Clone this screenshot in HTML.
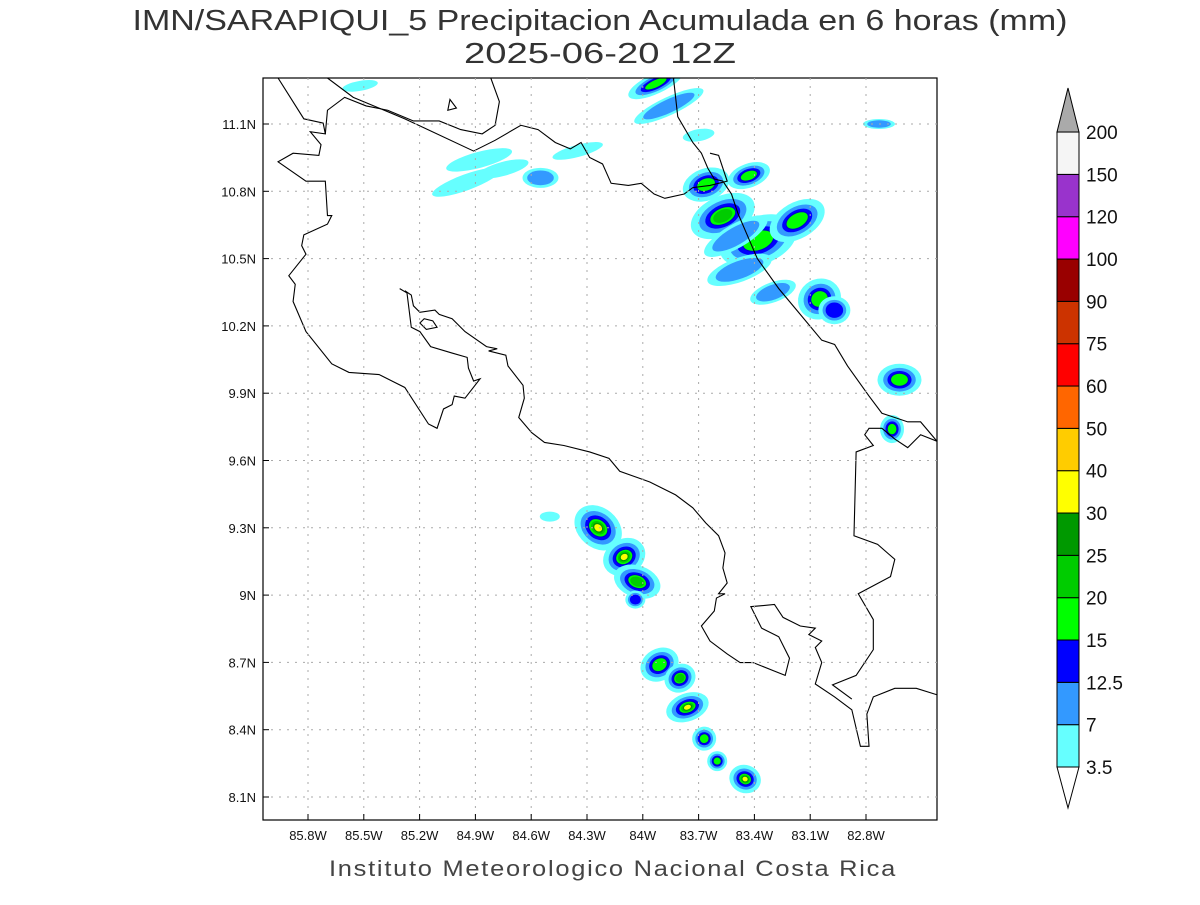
<!DOCTYPE html>
<html><head><meta charset="utf-8"><style>
body{margin:0;background:#fff;}
svg text{font-family:"Liberation Sans",sans-serif;}
</style></head><body>
<svg id="chart" width="1200" height="900" xmlns="http://www.w3.org/2000/svg">
<rect width="1200" height="900" fill="#fff"/>
<text x="600" y="30" text-anchor="middle" font-size="29" fill="#333" textLength="935" lengthAdjust="spacingAndGlyphs">IMN/SARAPIQUI_5 Precipitacion Acumulada en 6 horas (mm)</text>
<text x="600" y="63" text-anchor="middle" font-size="29" fill="#333" textLength="272" lengthAdjust="spacingAndGlyphs">2025-06-20 12Z</text>
<defs><clipPath id="pc"><rect x="263" y="78" width="674" height="742"/></clipPath></defs>
<g id="plot" clip-path="url(#pc)"></g>
<g clip-path="url(#pc)">
<g id="coast" transform="translate(263,78) scale(0.4298)" fill="none" stroke="#000" stroke-width="1.1">
<path vector-effect="non-scaling-stroke" d="M35,0 L95,95 140,105 145,130 110,125 135,155 130,180 70,175 35,195 100,240 145,240 150,320 160,320 150,340 95,365 90,390 100,410 60,460 75,480 70,520 100,590 160,665 200,685 270,690 330,720 385,805 405,815 420,770 440,760 445,740 470,745 505,700 490,705 478,675 475,650 440,640 390,625 365,590 345,580 335,500 318,490"/>
<path vector-effect="non-scaling-stroke" d="M330,495 L345,505 350,530 365,545 400,540 410,550 440,560 470,590 520,625 545,630 525,635 565,645 570,670 605,715 608,745 595,790 625,825 655,848 700,855 760,870 805,885 830,915 900,940 960,970 1000,1000 1030,1035 1060,1065 1075,1105 1070,1140 1080,1175 1060,1200 1075,1200 1055,1210 1050,1240 1020,1275 1040,1310 1080,1340 1110,1360 1140,1360 1190,1380 1215,1390 1225,1350 1200,1300 1160,1280 1135,1230 1190,1225 1210,1255 1250,1275 1285,1280 1270,1295 1300,1310 1285,1325 1300,1360 1285,1410 1330,1440 1370,1470 1390,1555 1410,1555 1405,1480 1420,1440 1470,1420 1520,1420 1568,1435"/>
<path vector-effect="non-scaling-stroke" d="M1568,845 L1530,830 1500,860 1470,840 1440,815 1410,815 1400,830 1420,855 1380,870 1375,1065 1430,1085 1470,1120 1460,1160 1385,1200 1420,1260 1420,1330 1380,1390 1325,1412 1370,1445"/>
<path vector-effect="non-scaling-stroke" d="M955,0 L965,90 1000,150 1020,175 1035,210 1050,235 1070,240 1090,270 1105,315 1120,350 1150,420 1200,490 1250,550 1300,610 1330,620 1360,670 1410,740 1440,780 1500,800 1530,800 1568,845"/>
<path vector-effect="non-scaling-stroke" d="M150,0 L210,45 330,95 490,170 540,145 600,110 640,120 680,150 715,165 740,150 760,185 790,200 810,245 850,250 880,245 910,270 935,280 980,270 1000,255 1040,250 1060,245 1080,240 1060,180 1040,175"/>
<path vector-effect="non-scaling-stroke" d="M145,130 L150,75 190,45 240,65 290,75 350,100 410,100 460,120 510,130 540,110 550,55 530,0"/>
<path vector-effect="non-scaling-stroke" d="M430,75 L435,50 450,70Z M365,570 L375,560 395,565 405,580 380,585Z"/>
</g>
</g>
<rect x="263" y="78" width="674" height="742" fill="none" stroke="#000" stroke-width="1.2"/>
<g id="axes"></g>
<g id="cbar"></g>
<text x="613" y="876" text-anchor="middle" font-size="22" fill="#444" letter-spacing="1.5" textLength="568" lengthAdjust="spacingAndGlyphs">Instituto Meteorologico Nacional Costa Rica</text>
</svg>
<script>
const lonTicks=[85.8,85.5,85.2,84.9,84.6,84.3,84.0,83.7,83.4,83.1,82.8];
const lonLabels=["85.8W","85.5W","85.2W","84.9W","84.6W","84.3W","84W","83.7W","83.4W","83.1W","82.8W"];
const latTicks=[11.1,10.8,10.5,10.2,9.9,9.6,9.3,9.0,8.7,8.4,8.1];
const latLabels=["11.1N","10.8N","10.5N","10.2N","9.9N","9.6N","9.3N","9N","8.7N","8.4N","8.1N"];
const levelValues=[3.5,7,12.5,15,20,25,30,40,50,60,75,90,100,120,150,200];
const levelColors=["#66ffff","#3399ff","#0000ff","#00ff00","#00cc00","#009900","#ffff00","#ffcc00","#ff6600","#ff0000","#cc3300","#990000","#ff00ff","#9933cc","#f5f5f5"];
// precipitation cells: lon(W), lat(N), max (mm)
const cellLon=[84.24,84.10,84.03,84.04,83.91,83.80,83.76,83.67,83.60,83.45,83.93,83.66,83.43,83.57,83.38,83.17,83.05,82.97,82.62,82.66,84.55,84.88,85.52,83.86,84.95,83.48,83.30,83.70,82.73,84.50,84.35,83.50,84.75];
const cellLat=[9.30,9.17,9.06,8.98,8.69,8.63,8.50,8.36,8.26,8.18,11.28,10.83,10.87,10.69,10.58,10.67,10.32,10.27,9.96,9.74,10.86,10.94,11.27,11.18,10.84,10.45,10.35,11.05,11.10,9.35,10.98,10.60,10.90];
const cellMax=[35,35,22,14,18,22,35,20,20,35,20,20,20,22,20,20,20,13,20,20,10,5,4,8,5,9,8,5,9,5,5,9,5];
const cellRx=[26,18,24,10,16,14,14,12,10,16,30,24,22,34,40,30,22,16,22,12,18,34,18,38,36,34,24,16,16,10,26,36,26];
const cellRy=[20,22,16,9,20,16,22,12,10,14,10,16,12,20,24,18,20,14,16,14,10,8,5,9,8,12,10,6,5,5,6,12,7];
const cellAng=[40,60,20,0,60,60,70,30,0,20,-25,-20,-20,-25,-20,-30,-30,0,0,0,0,-15,-10,-25,-20,-20,-20,-10,0,0,-15,-30,-15];
const X=lon=>308+(85.8-lon)/0.3*55.8, Y=lat=>124+(11.1-lat)/0.3*67.3;
const NS="http://www.w3.org/2000/svg";
function mk(tag,attrs,parent){const e=document.createElementNS(NS,tag);for(const k in attrs)e.setAttribute(k,attrs[k]);parent.appendChild(e);return e;}
const plot=document.getElementById('plot'),axes=document.getElementById('axes'),cb=document.getElementById('cbar');
for(let i=0;i<cellLon.length;i++){
  const g=mk('g',{transform:`translate(${X(cellLon[i])},${Y(cellLat[i])}) rotate(${cellAng[i]})`},plot);
  
  
  let n=0;while(n<levelColors.length&&cellMax[i]>levelValues[n])n++;
  for(let k=0;k<n;k++){const f=Math.pow(0.74,k);
    const e=mk('ellipse',{cx:0,cy:0,rx:cellRx[i]*f,ry:cellRy[i]*f,fill:levelColors[k]},g);
    if(k===3)e.setAttribute('stroke','#0000cc');
  }
}
lonTicks.forEach((v,i)=>{const x=X(v);
  const l=mk('line',{x1:x,x2:x,y1:78,y2:820,stroke:'#aaa','stroke-dasharray':'2,6'},axes);
  
  mk('line',{x1:x,x2:x,y1:820,y2:814,stroke:'#000'},axes);
  const t=mk('text',{x:x,y:840,'text-anchor':'middle','font-size':13,fill:'#111'},axes);t.textContent=lonLabels[i];
  });
latTicks.forEach((v,i)=>{const y=Y(v);
  const l=mk('line',{x1:263,x2:937,y1:y,y2:y,stroke:'#aaa','stroke-dasharray':'2,6'},axes);
  
  mk('line',{x1:263,x2:269,y1:y,y2:y,stroke:'#000'},axes);
  const t=mk('text',{x:256,y:y+5,'text-anchor':'end','font-size':13,fill:'#111'},axes);t.textContent=latLabels[i];
  });
const cbY=v=>767-levelValues.indexOf(v)*42.33;
for(let k=0;k<levelColors.length;k++){
  const y1=cbY(levelValues[k+1]),y0=cbY(levelValues[k]);
  const r=mk('rect',{x:1057,y:y1,width:22,height:y0-y1,fill:levelColors[k],stroke:'#000','stroke-width':1},cb);
  
}
const tt=mk('polygon',{points:`1057,${cbY(200)} 1079,${cbY(200)} 1068,88`,fill:'#aaa',stroke:'#000'},cb);

const tb=mk('polygon',{points:`1057,767 1079,767 1068,808`,fill:'#fff',stroke:'#000'},cb);

levelValues.forEach(v=>{const t=mk('text',{x:1086,y:cbY(v)+7,'font-size':19,fill:'#111'},cb);t.textContent=String(v);
  });
</script>
</body></html>
